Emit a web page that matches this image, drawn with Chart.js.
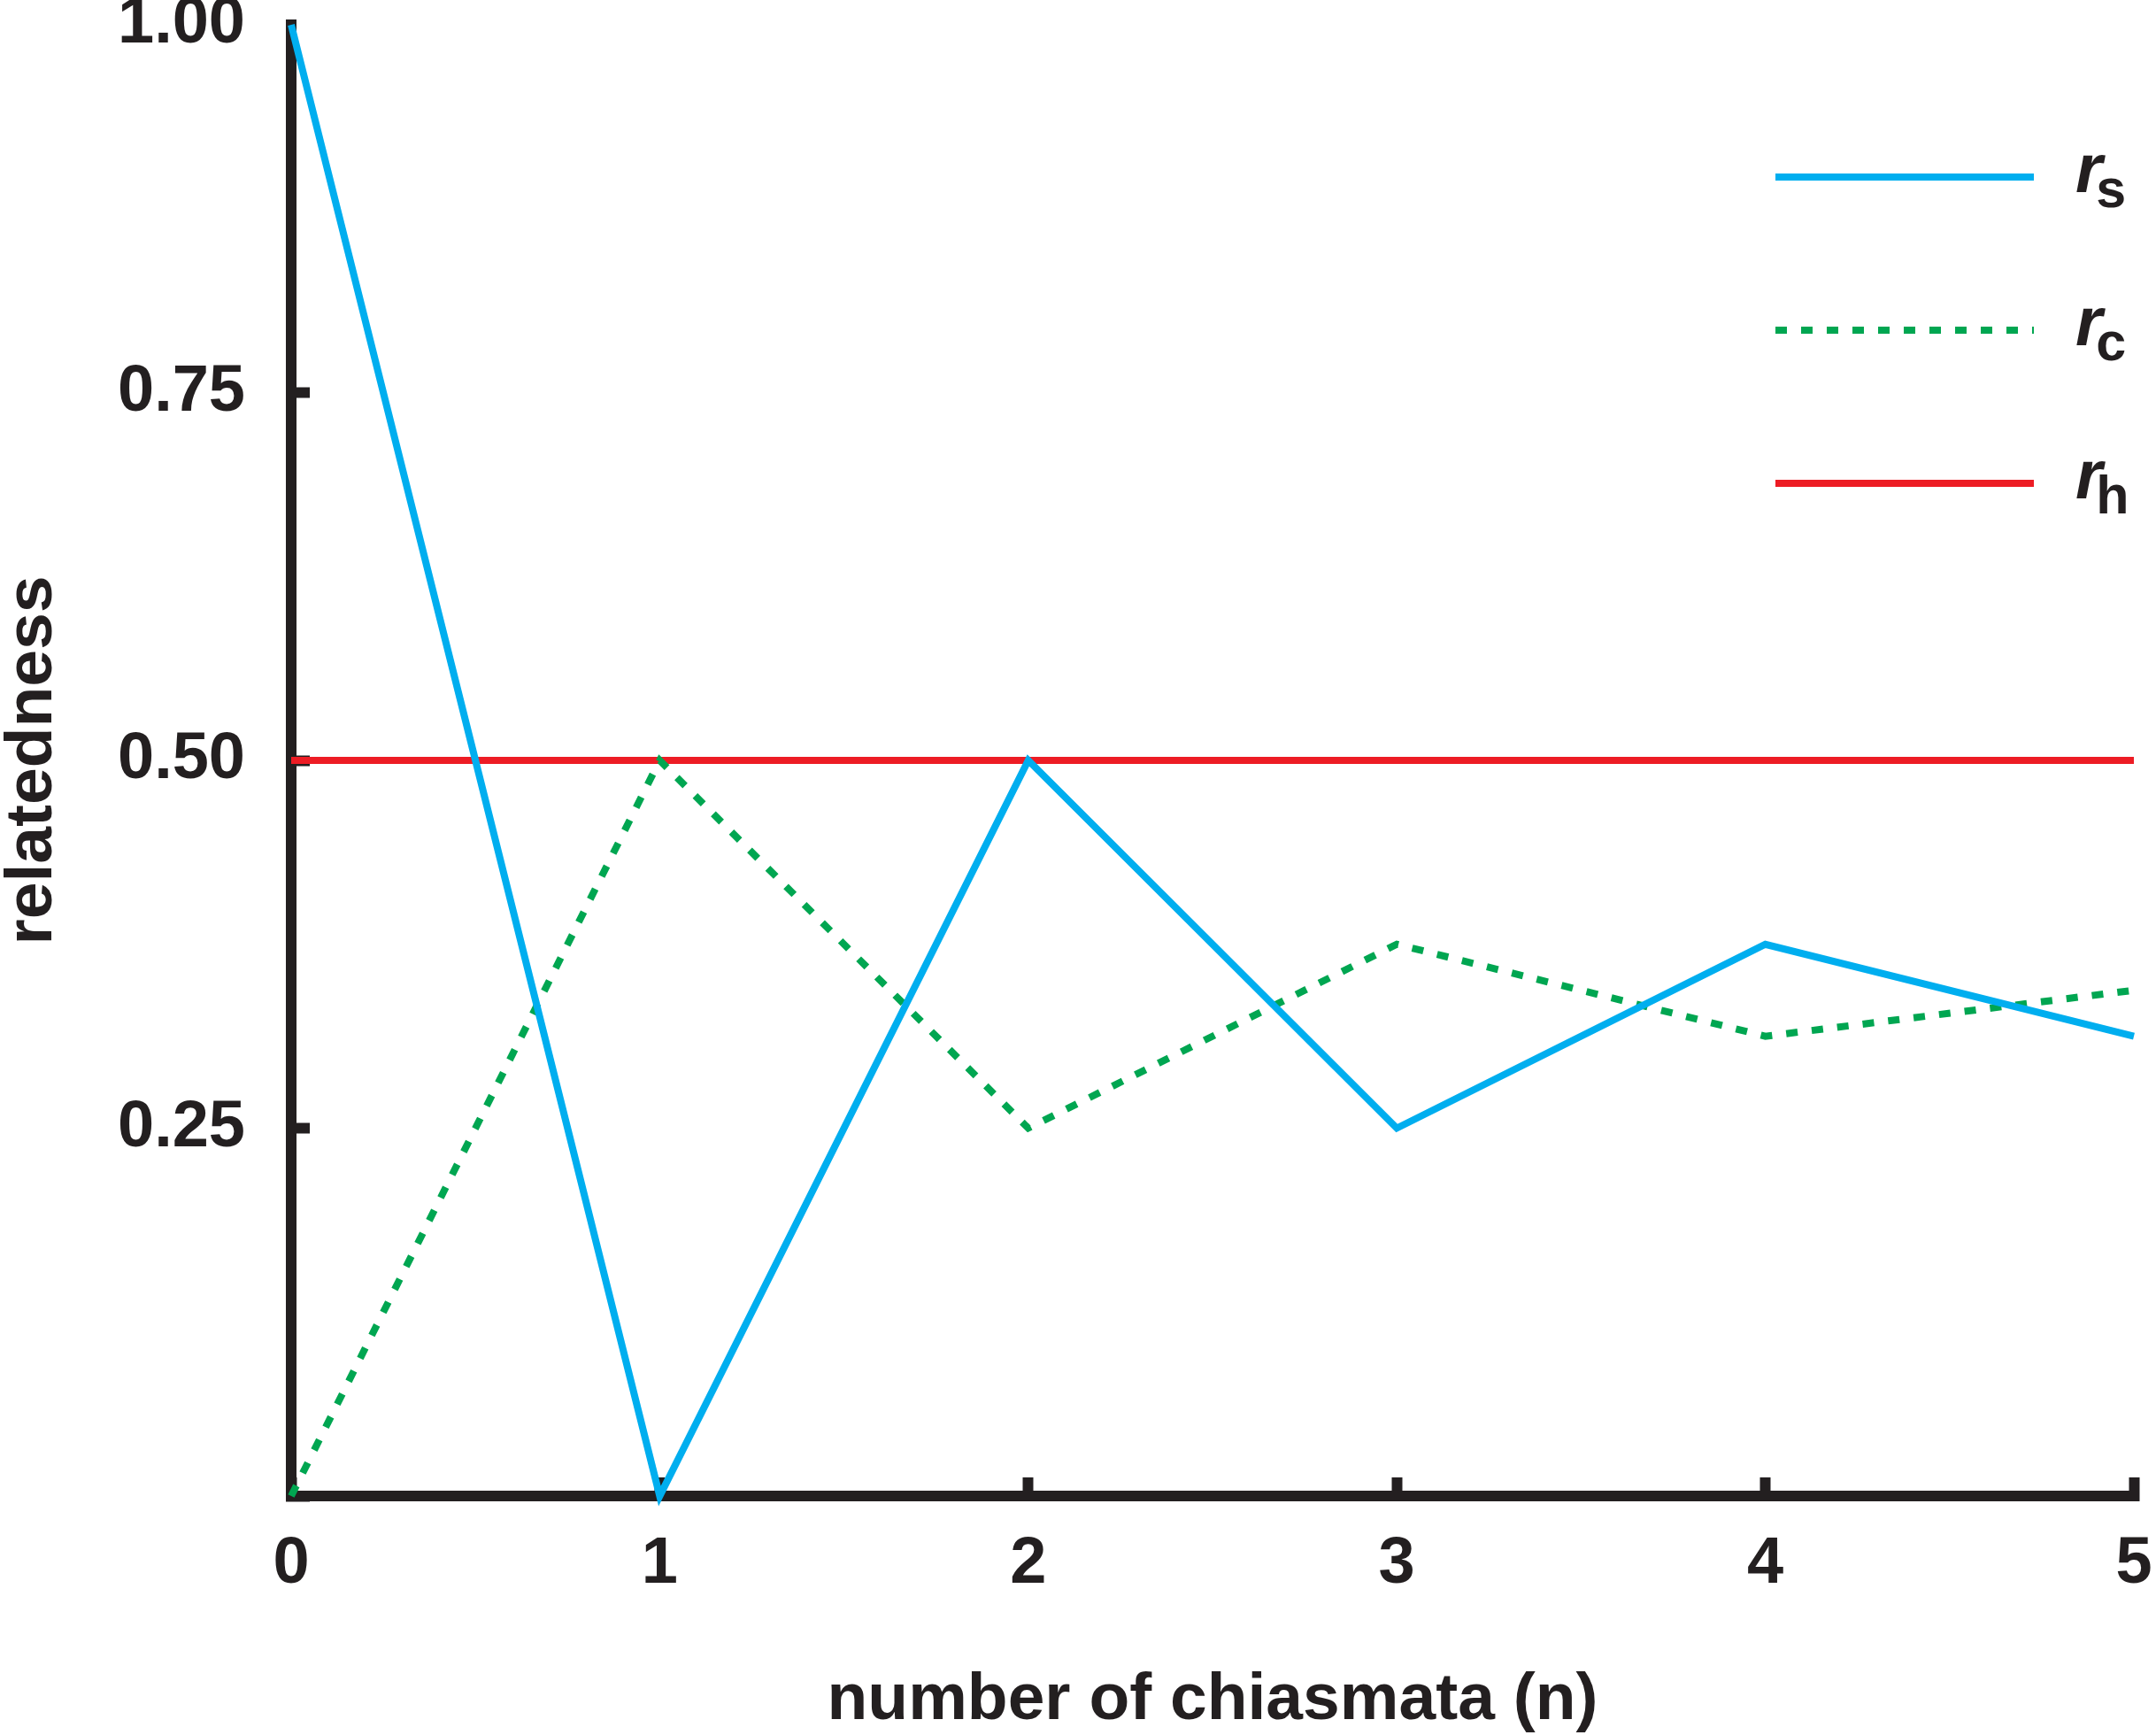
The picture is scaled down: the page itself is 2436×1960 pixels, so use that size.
<!DOCTYPE html>
<html>
<head>
  <meta charset="UTF-8">
  <title>Relatedness vs number of chiasmata</title>
  <style>
    body { margin: 0; background: #fff; }
    canvas { display: block; }
  </style>
  <script src="https://cdn.jsdelivr.net/npm/chart.js"></script>
</head>
<body>
  <canvas id="chart" width="2436" height="1960"></canvas>

  <script>
  // data
  const chiasmata = ["0", "1", "2", "3", "4", "5"];
  const rs = [1, 0, 0.5, 0.25, 0.375, 0.3125];
  const rc = [0, 0.5, 0.25, 0.375, 0.3125, 0.34375];
  const rh = [0.5, 0.5, 0.5, 0.5, 0.5, 0.5];
  const yTicks = [0.25, 0.5, 0.75, 1.0];

  // legend: italic r with subscript
  const legendMain = ["r", "r", "r"];
  const legendSub = ["s", "c", "h"];

  const ink = "#231F20";
  const font = "'Liberation Sans', Arial, Helvetica, sans-serif";

  // draws legend rows from the datasets (line sample + r with subscript)
  const subLegend = {
    id: "subLegend",
    afterDraw(chart) {
      const ctx = chart.ctx;
      const area = chart.chartArea;
      ctx.save();
      chart.data.datasets.forEach((ds, i) => {
        const y = area.top + 172 + i * 173;
        const x0 = area.right - 405;
        ctx.beginPath();
        ctx.strokeStyle = ds.borderColor;
        ctx.lineWidth = ds.borderWidth;
        ctx.lineCap = "butt";
        ctx.setLineDash(ds.borderDash || []);
        ctx.moveTo(x0, y);
        ctx.lineTo(x0 + 292, y);
        ctx.stroke();
        ctx.setLineDash([]);

        ctx.fillStyle = ink;
        ctx.textBaseline = "alphabetic";
        ctx.textAlign = "left";
        ctx.font = "italic bold 78px " + font;
        const tx = x0 + 339;
        ctx.fillText(legendMain[i], tx, y + 17);
        const w = ctx.measureText(legendMain[i]).width;
        ctx.font = "bold 61px " + font;
        ctx.fillText(legendSub[i], tx + w - 7, y + 34);
      });
      ctx.restore();
    }
  };

  new Chart(document.getElementById("chart").getContext("2d"), {
    type: "line",
    data: {
      labels: chiasmata,
      datasets: [
        { label: "rs", data: rs, borderColor: "#00AEEF", borderWidth: 8, order: 0 },
        { label: "rc", data: rc, borderColor: "#00A651", borderWidth: 8, borderDash: [13, 16], order: 1 },
        { label: "rh", data: rh, borderColor: "#ED1C24", borderWidth: 8, order: 2 }
      ]
    },
    options: {
      responsive: false,
      devicePixelRatio: 1,
      animation: false,
      datasets: {
        line: { pointRadius: 0, tension: 0, clip: false, borderCapStyle: "butt", fill: false }
      },
      layout: { padding: { top: 28, right: 25, left: 0, bottom: 0 } },
      plugins: {
        legend: { display: false },
        tooltip: { enabled: false }
      },
      scales: {
        x: {
          type: "category",
          offset: false,
          border: { color: ink, width: 12 },
          grid: { drawOnChartArea: false, tickLength: -21, tickWidth: 12, tickColor: ink, offset: false },
          ticks: { color: ink, padding: 62, font: { family: font, size: 74, weight: "bold", lineHeight: 1 } },
          title: {
            display: true,
            text: "number of chiasmata (n)",
            color: ink,
            padding: { top: 0, bottom: 1 },
            font: { family: font, size: 75, weight: "bold", lineHeight: 1 }
          },
          afterFit(scale) {
            scale.height = 270;
            scale.paddingLeft = 0;
            scale.paddingRight = 0;
          }
        },
        y: {
          min: 0,
          max: 1,
          border: { color: ink, width: 12 },
          grid: {
            drawOnChartArea: false,
            tickLength: -21,
            tickWidth: 12,
            // no tick mark at the top end of the axis
            tickColor: c => (c.tick && c.tick.value === 1 ? "rgba(0,0,0,0)" : ink)
          },
          afterBuildTicks(scale) {
            scale.ticks = [0].concat(yTicks).map(v => ({ value: v }));
          },
          ticks: {
            color: ink,
            padding: 73,
            font: { family: font, size: 74, weight: "bold", lineHeight: 1 },
            callback: v => (v === 0 ? "" : v.toFixed(2))
          },
          title: {
            display: true,
            text: "relatedness",
            color: ink,
            padding: { top: 0, bottom: 0 },
            font: { family: font, size: 75, weight: "bold", lineHeight: 1 }
          },
          afterFit(scale) {
            scale.width = 329;
            scale.paddingTop = 0;
            scale.paddingBottom = 0;
          }
        }
      }
    },
    plugins: [subLegend]
  });
  </script>
</body>
</html>
